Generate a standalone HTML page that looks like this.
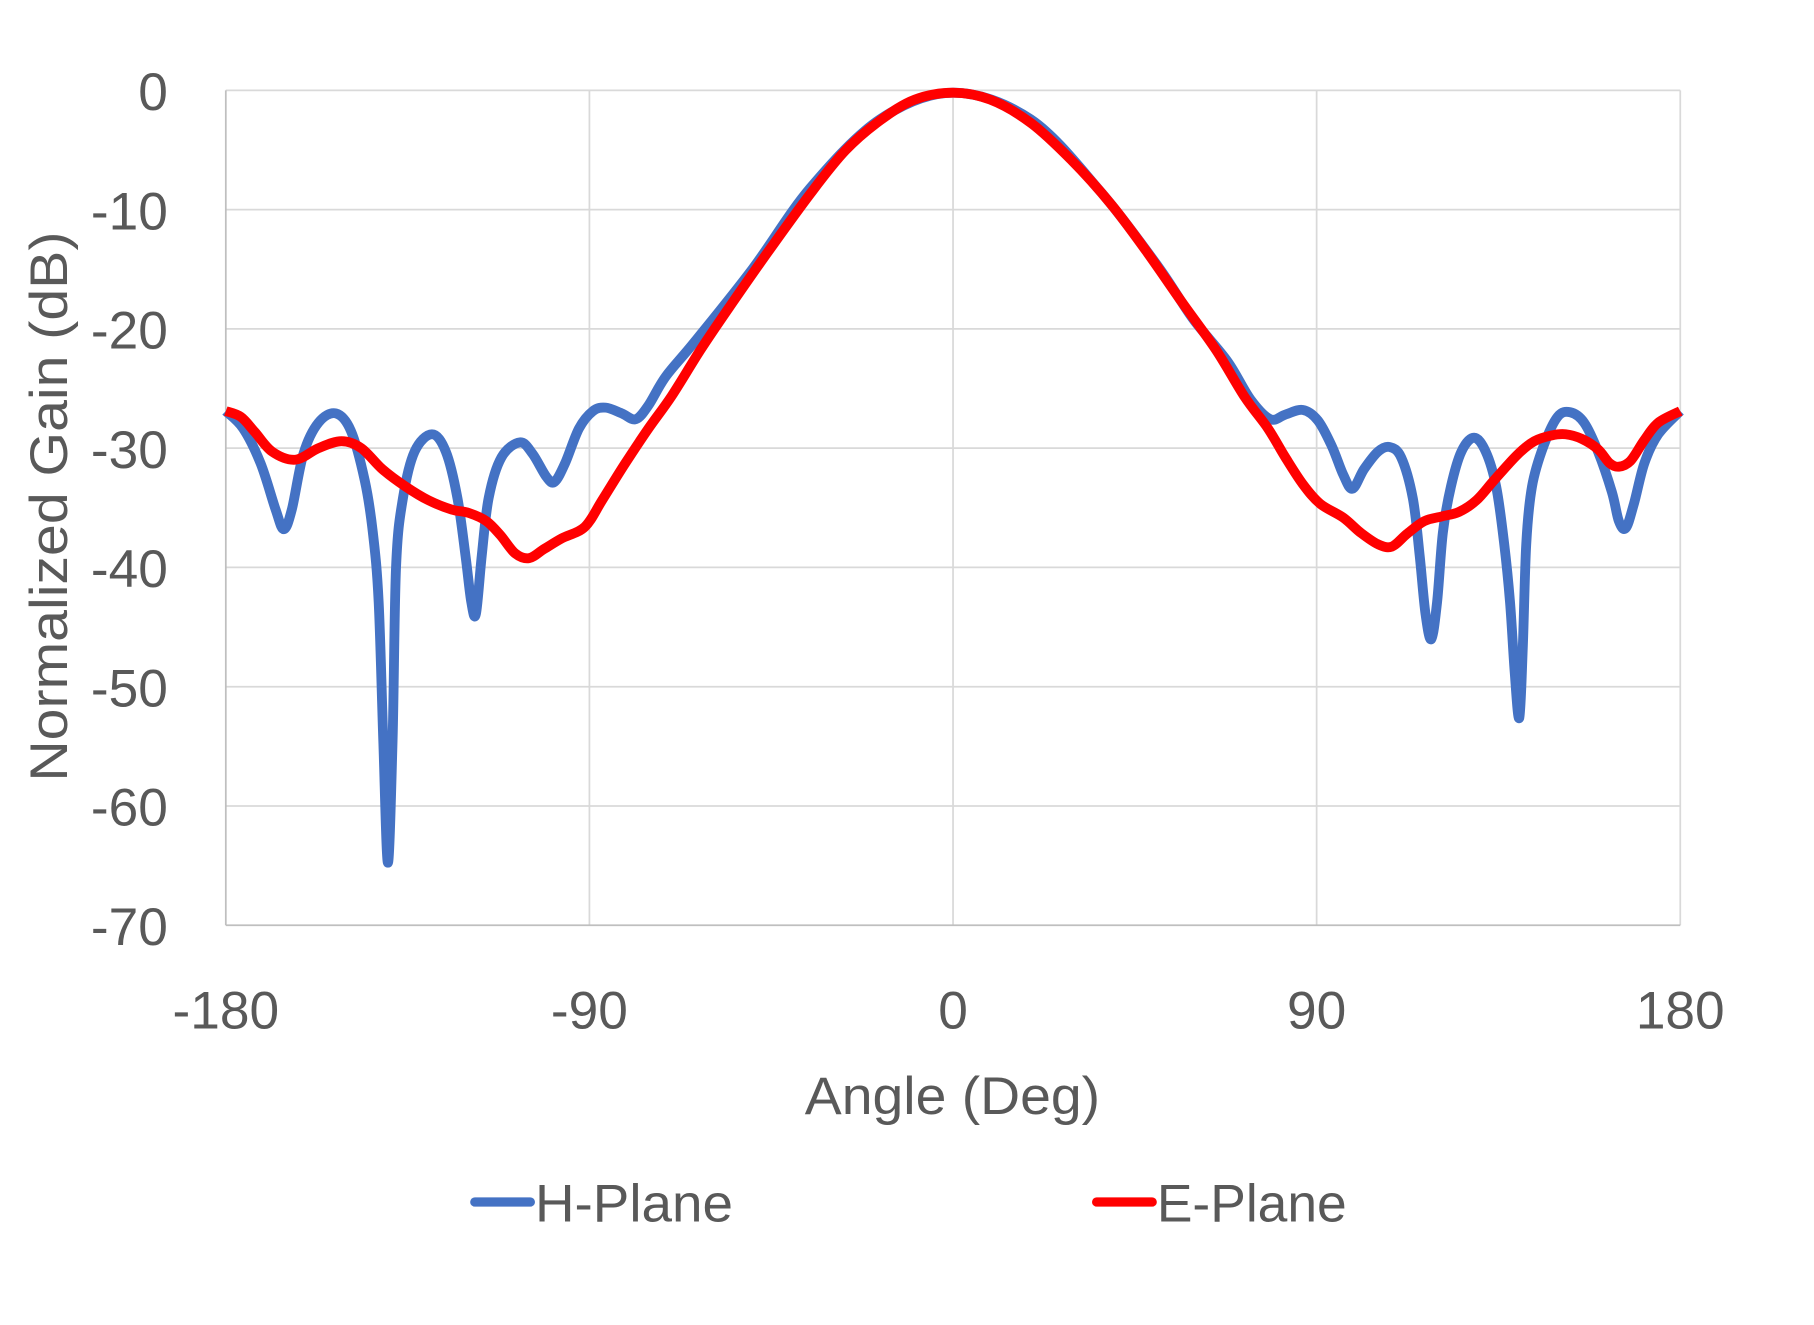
<!DOCTYPE html>
<html><head><meta charset="utf-8"><style>html,body{margin:0;padding:0;background:#fff}svg{display:block}</style></head>
<body>
<svg id="s" width="1814" height="1325" viewBox="0 0 1566.5 1144.2" preserveAspectRatio="none" xmlns="http://www.w3.org/2000/svg" font-family="'Liberation Sans', sans-serif" fill="#595959">
<g stroke="#d9d9d9" stroke-width="1.5" fill="none">
<line x1="195" y1="78" x2="1451" y2="78"/>
<line x1="195" y1="181" x2="1451" y2="181"/>
<line x1="195" y1="284" x2="1451" y2="284"/>
<line x1="195" y1="387" x2="1451" y2="387"/>
<line x1="195" y1="490" x2="1451" y2="490"/>
<line x1="195" y1="593" x2="1451" y2="593"/>
<line x1="195" y1="696" x2="1451" y2="696"/>
<line x1="509" y1="78" x2="509" y2="799"/>
<line x1="823" y1="78" x2="823" y2="799"/>
<line x1="1137" y1="78" x2="1137" y2="799"/>
<line x1="1451" y1="78" x2="1451" y2="799"/>
</g>
<g stroke="#bfbfbf" stroke-width="1.5"><line x1="195" y1="78" x2="195" y2="799"/><line x1="195" y1="799" x2="1451" y2="799"/></g>
<g font-size="46" text-anchor="end">
<text x="145" y="95">0</text><text x="145" y="198">-10</text><text x="145" y="301">-20</text><text x="145" y="404">-30</text><text x="145" y="507">-40</text><text x="145" y="610">-50</text><text x="145" y="713">-60</text><text x="145" y="816">-70</text>
</g>
<g font-size="46" text-anchor="middle">
<text x="195" y="888">-180</text><text x="509" y="888">-90</text><text x="823" y="888">0</text><text x="1137" y="888">90</text><text x="1451" y="888">180</text>
</g>
<text x="695" y="962" font-size="46" textLength="255" lengthAdjust="spacingAndGlyphs">Angle (Deg)</text>
<text transform="translate(58,675) rotate(-90)" font-size="46" textLength="475" lengthAdjust="spacingAndGlyphs">Normalized Gain (dB)</text>
<line x1="410" y1="1038" x2="458" y2="1038" stroke="#4472c4" stroke-width="8" stroke-linecap="round"/>
<text x="462" y="1055" font-size="46" textLength="171" lengthAdjust="spacingAndGlyphs">H-Plane</text>
<line x1="947" y1="1038" x2="995" y2="1038" stroke="#ff0000" stroke-width="8" stroke-linecap="round"/>
<text x="999" y="1055" font-size="46" textLength="164" lengthAdjust="spacingAndGlyphs">E-Plane</text>
<path id="hp" fill="none" stroke="#4472c4" stroke-width="8.5" stroke-linejoin="round"/>
<path id="ep" fill="none" stroke="#ff0000" stroke-width="8.5" stroke-linejoin="round"/>
</svg>
<script>
function cr(p){var d="M"+p[0][0]+","+p[0][1];for(var i=0;i<p.length-1;i++){var p0=p[i-1]||p[i],p1=p[i],p2=p[i+1],p3=p[i+2]||p2;
var c1x=p1[0]+(p2[0]-p0[0])/6,c1y=p1[1]+(p2[1]-p0[1])/6,c2x=p2[0]-(p3[0]-p1[0])/6,c2y=p2[1]-(p3[1]-p1[1])/6;
d+=" C"+c1x.toFixed(1)+","+c1y.toFixed(1)+" "+c2x.toFixed(1)+","+c2y.toFixed(1)+" "+p2[0]+","+p2[1];}return d;}
var H=[[195,355],[210,370],[225,400],[238,440],[245,457],[252,440],[262,392],[275,365],[290,357],[303,372],[315,415],[322,460],[327,520],[331,640],[335,745],[339,640],[342,490],[348,430],[358,390],[373,375],[385,390],[395,430],[402,480],[407,520],[411,530],[416,480],[422,430],[433,395],[449,382],[460,392],[472,412],[479,416],[488,400],[500,370],[512,355],[523,352],[537,357],[549,362],[560,350],[575,325],[600,295],[650,232],[700,162],[760,103],[823,80],[890,103],[950,165],[1000,230],[1030,275],[1060,312],[1080,345],[1097,362],[1110,358],[1125,354],[1138,363],[1150,385],[1160,410],[1168,422],[1178,405],[1190,390],[1200,386],[1210,395],[1220,430],[1226,480],[1231,530],[1236,552],[1241,520],[1246,460],[1253,420],[1262,390],[1273,378],[1283,390],[1292,420],[1299,470],[1304,520],[1308,580],[1312,620],[1315,560],[1318,470],[1323,420],[1333,385],[1345,360],[1356,356],[1368,365],[1380,390],[1392,425],[1398,450],[1404,456],[1411,435],[1420,400],[1432,375],[1451,355]];
var E=[[195,355],[208,360],[220,373],[235,390],[255,397],[275,387],[295,381],[312,387],[330,405],[350,420],[370,432],[390,440],[405,443],[420,450],[432,462],[445,478],[457,482],[470,474],[485,465],[505,455],[520,432],[540,400],[560,370],[580,342],[605,302],[630,265],[665,215],[700,167],[730,130],[760,104],[790,86],[823,80],[855,86],[890,106],[925,138],[960,177],[990,217],[1020,260],[1050,302],[1075,343],[1095,370],[1110,395],[1125,418],[1140,435],[1160,447],[1175,460],[1190,470],[1202,472],[1215,461],[1230,450],[1245,446],[1260,442],[1275,432],[1290,415],[1310,393],[1325,381],[1340,376],[1352,375],[1366,379],[1380,388],[1390,400],[1398,403],[1408,398],[1420,380],[1432,365],[1451,355]];
document.getElementById("hp").setAttribute("d",cr(H));
document.getElementById("ep").setAttribute("d",cr(E));
</script>
</body></html>
